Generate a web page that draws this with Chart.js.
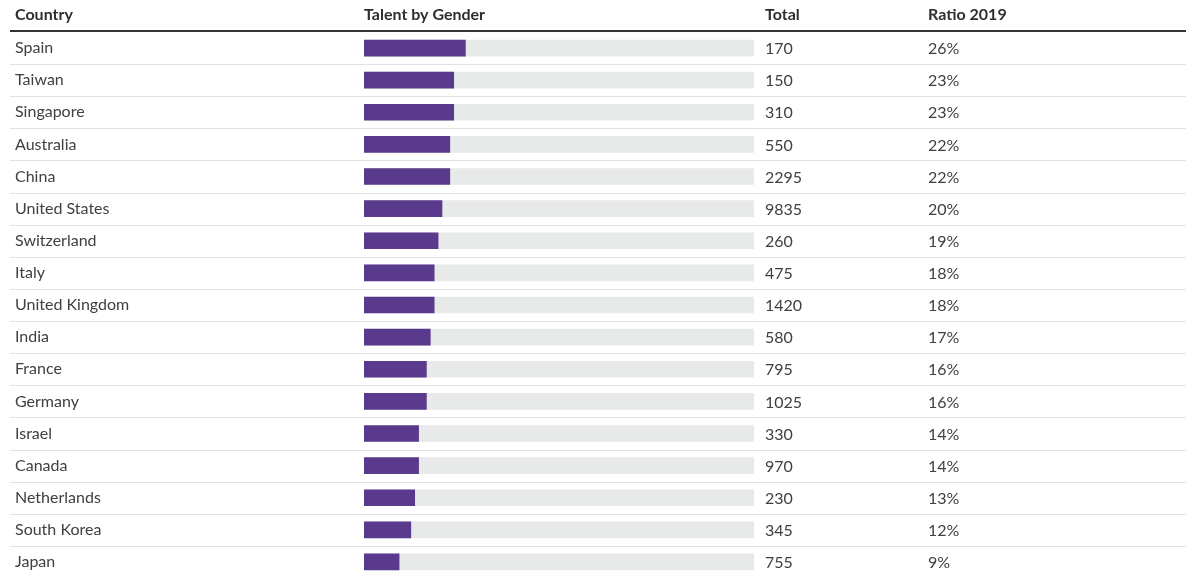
<!DOCTYPE html>
<html>
<head>
<meta charset="utf-8">
<script src="https://cdn.jsdelivr.net/npm/chart.js@4/dist/chart.umd.min.js"></script>
<style>
  html, body { margin: 0; padding: 0; background: #fff; overflow: hidden; }
  canvas { display: block; }
</style>
</head>
<body>
<canvas id="talent" width="1186" height="580"></canvas>
<script>
const countries = ['Spain', 'Taiwan', 'Singapore', 'Australia', 'China', 'United States', 'Switzerland', 'Italy',
  'United Kingdom', 'India', 'France', 'Germany', 'Israel', 'Canada', 'Netherlands', 'South Korea', 'Japan']
const totals = [170, 150, 310, 550, 2295, 9835, 260, 475, 1420, 580, 795, 1025, 330, 970, 230, 345, 755]
const ratios = [26, 23, 23, 22, 22, 20, 19, 18, 18, 17, 16, 16, 14, 14, 13, 12, 9]
const headers = ['Country', 'Talent by Gender', 'Total', 'Ratio 2019']

const FONT = 'Lato, "Source Sans Pro", sans-serif'
const TEXT = '#404040'

// header row, row rules and the Total / Ratio columns
const tablePlugin = {
  id: 'table',
  beforeDatasetsDraw(chart) {
    const ctx = chart.ctx
    const area = chart.chartArea
    const y = chart.scales.y
    ctx.save()
    // light rules between rows
    ctx.strokeStyle = '#e2e2e2'
    ctx.lineWidth = 1
    for (let i = 1; i < countries.length; i++) {
      let yy = Math.round((y.getPixelForValue(i - 1) + y.getPixelForValue(i)) / 2) + 0.5
      ctx.beginPath()
      ctx.moveTo(10, yy)
      ctx.lineTo(chart.width, yy)
      ctx.stroke()
    }
    // heavy rule under header
    ctx.strokeStyle = '#333'
    ctx.lineWidth = 2
    ctx.beginPath()
    ctx.moveTo(10, area.top - 1)
    ctx.lineTo(chart.width, area.top - 1)
    ctx.stroke()
    ctx.restore()
  },
  afterDraw(chart) {
    const ctx = chart.ctx
    const y = chart.scales.y
    const colX = [15, chart.chartArea.left, 765, 928]
    ctx.save()
    ctx.textBaseline = 'middle'
    ctx.textAlign = 'left'
    ctx.fillStyle = '#2e2e2e'
    ctx.font = 'bold 16px ' + FONT
    headers.forEach((h, i) => ctx.fillText(h, colX[i], 15))
    ctx.fillStyle = TEXT
    ctx.font = '16px ' + FONT
    countries.forEach((c, i) => {
      let yy = y.getPixelForValue(i) + 1
      ctx.fillText(String(totals[i]), colX[2], yy)
      ctx.fillText(ratios[i] + '%', colX[3], yy)
    })
    ctx.restore()
  }
}

new Chart(document.getElementById('talent'), {
  type: 'bar',
  data: {
    labels: countries,
    datasets: [{
      label: 'Ratio 2019',
      data: ratios,
      backgroundColor: '#5a3a8c',
      barThickness: 16,
      order: 0
    }, {
      label: 'track',
      data: countries.map(() => 100),
      backgroundColor: '#e8e9e9',
      barThickness: 16,
      order: 1
    }]
  },
  options: {
    indexAxis: 'y',
    responsive: false,
    animation: false,
    grouped: false,
    layout: { padding: { left: 15, top: 32, right: 432, bottom: 2 } },
    plugins: { legend: { display: false }, tooltip: { enabled: false } },
    scales: {
      x: { display: false, min: 0, max: 100 },
      y: {
        border: { display: false },
        grid: { display: false, drawTicks: false },
        ticks: {
          crossAlign: 'far',
          padding: 0,
          color: TEXT,
          font: { family: FONT, size: 16 }
        },
        afterFit(scale) {
          // fixed label column, no extra room for the end labels
          scale.width = 349
          scale.paddingTop = 0
          scale.paddingBottom = 0
        }
      }
    }
  },
  plugins: [tablePlugin]
})
</script>
</body>
</html>
